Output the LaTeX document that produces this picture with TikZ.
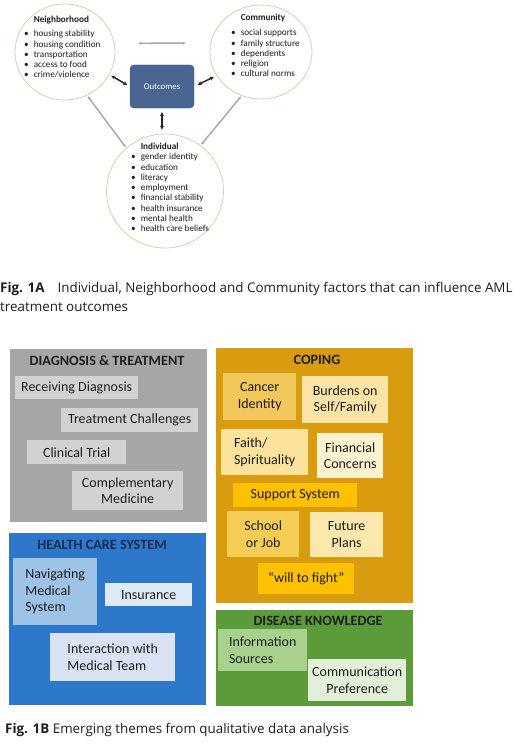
\documentclass[tikz,border=0pt]{standalone}
\usepackage{fontspec}
\setmainfont{Carlito}
\newfontfamily\capfont{Open Sans}
\usetikzlibrary{shapes.geometric,arrows.meta}
\definecolor{circline}{HTML}{C9D8B0}
\definecolor{outfill}{HTML}{4A6592}
\definecolor{outdraw}{HTML}{3A5078}
\definecolor{garrow}{HTML}{A6A6A6}
\definecolor{dgray}{HTML}{A6A6A6}
\definecolor{lgray}{HTML}{D2D2D2}
\definecolor{corange}{HTML}{D99B10}
\definecolor{cy1}{HTML}{F2C75C}
\definecolor{cy2}{HTML}{FBE4A6}
\definecolor{cy3}{HTML}{FCE29A}
\definecolor{cy4}{HTML}{FDF2D0}
\definecolor{cy5}{HTML}{FFC000}
\definecolor{cy6}{HTML}{F5CD55}
\definecolor{cy7}{HTML}{FCE7AC}
\definecolor{hblue}{HTML}{2E78CC}
\definecolor{hb1}{HTML}{9DC3E6}
\definecolor{hb2}{HTML}{DEEBF7}
\definecolor{hb3}{HTML}{DAE3F3}
\definecolor{hgreen}{HTML}{5B9B3A}
\definecolor{hg1}{HTML}{A9D18E}
\definecolor{hg2}{HTML}{E2F0D9}
\definecolor{navytxt}{HTML}{1A2B4C}
\definecolor{txt}{HTML}{1E1E1E}
\tikzset{
  circ/.style={ellipse, draw=circline, line width=0.8pt, fill=white},
  ctext/.style={font=\fontsize{9.2}{10.3}\selectfont, text=txt, inner sep=0pt, anchor=north west},
  blk/.style={{Stealth[length=4pt,width=4pt]}-{Stealth[length=4pt,width=4pt]}, line width=1.5pt, draw=black!85},
  gry/.style={{Stealth[length=3pt,width=3pt]}-{Stealth[length=3pt,width=3pt]}, line width=1.4pt, draw=garrow},
  outerbox/.style={rectangle, inner sep=0pt, anchor=north west},
  ttl/.style={font=\fontsize{14.2}{16}\bfseries\selectfont, text=txt, inner sep=0pt},
  inbox/.style={rectangle, inner sep=2pt, anchor=north west, font=\fontsize{14}{16.5}\selectfont, text=txt, align=center},
  lbox/.style={inbox, align=left},
  captxt/.style={font=\capfont\fontsize{13.4}{18}\selectfont, text=txt, inner sep=0pt, anchor=west},
}
\begin{document}
\begin{tikzpicture}[x=1pt,y=-1pt]
\useasboundingbox[fill=white] (0,0) rectangle (520,752);

% ---------- Fig 1A ----------
\node[circ, minimum width=100pt, minimum height=96pt] (nb) at (65,52) {};
\node[circ, minimum width=102pt, minimum height=94pt] (cm) at (261,52) {};
\node[circ, minimum width=117pt, minimum height=114pt] (ind) at (165,191) {};
\node[rectangle, rounded corners=4pt, fill=outfill, draw=outdraw, minimum width=64pt, minimum height=43pt, text=white, font=\fontsize{8.8}{10}\selectfont] (out) at (162,86.5) {Outcomes};

\node[ctext] (nbt) at (24,15) {\begin{tabular}{@{}l@{\hspace{5pt}}l@{}}
 & \textbf{Neighborhood}\\[4pt]
\textbullet & housing stability\\
\textbullet & housing condition\\
\textbullet & transportation\\
\textbullet & access to food\\
\textbullet & crime/violence
\end{tabular}};
\node[ctext] (cmt) at (231,13) {\begin{tabular}{@{}l@{\hspace{5pt}}l@{}}
 & \textbf{Community}\\[5pt]
\textbullet & social supports\\
\textbullet & family structure\\
\textbullet & dependents\\
\textbullet & religion\\
\textbullet & cultural norms
\end{tabular}};
\node[ctext] (indt) at (131,142) {\begin{tabular}{@{}l@{\hspace{5pt}}l@{}}
 & \textbf{Individual}\\
\textbullet & gender identity\\
\textbullet & education\\
\textbullet & literacy\\
\textbullet & employment\\
\textbullet & financial stability\\
\textbullet & health insurance\\
\textbullet & mental health\\
\textbullet & health care beliefs
\end{tabular}};

\draw[blk, shorten <=2pt, shorten >=3pt] (nb.-27) -- (out.west);
\draw[blk, shorten <=4pt, shorten >=3pt] (out.east) -- (cm.-152);
\draw[blk, shorten <=4pt, shorten >=4pt] (out.south) -- (out.south |- ind.north);
\draw[gry, shorten <=24pt, shorten >=25pt] (nb.10) -- (cm.170);
\draw[gry, shorten <=1pt, shorten >=1pt] (nb.-63) -- (ind.132);
\draw[gry, shorten <=1pt, shorten >=1pt] (cm.-114) -- (ind.52);

\node[captxt] (capA) at (0,289) {\textbf{Fig. 1A}\hspace{13pt}Individual, Neighborhood and Community factors that can influence AML};
\node[captxt] (capA2) at (0,307) {treatment outcomes};

% ---------- Fig 1B ----------
% Diagnosis & Treatment
\node[outerbox, fill=dgray, minimum width=197pt, minimum height=173pt] (dt) at (10,349) {};
\node[ttl] (dtt) at (107,361) {DIAGNOSIS \& TREATMENT};
\node[inbox, fill=lgray, minimum width=123pt, minimum height=23pt] (rd) at (15,376) {Receiving Diagnosis};
\node[inbox, fill=lgray, minimum width=137pt, minimum height=24pt] (tc) at (61,408) {Treatment Challenges};
\node[inbox, fill=lgray, minimum width=99pt, minimum height=24pt] (ct) at (27,440) {Clinical Trial};
\node[inbox, fill=lgray, minimum width=111pt, minimum height=39pt] (cmd) at (72,471) {Complementary\\Medicine};

% Coping
\node[outerbox, fill=corange, minimum width=197pt, minimum height=255pt] (cp) at (216,348) {};
\node[ttl] (cpt) at (317,360) {COPING};
\node[inbox, fill=cy1, minimum width=73pt, minimum height=47pt] (ci) at (223,373) {Cancer\\Identity};
\node[inbox, fill=cy2, minimum width=86pt, minimum height=47pt] (bs) at (302,376) {Burdens on\\Self/Family};
\node[lbox, fill=cy3, minimum width=87pt, minimum height=46pt] (fs) at (221,429) {Faith/\\Spirituality};
\node[inbox, fill=cy4, minimum width=66pt, minimum height=45pt] (fc) at (317,433) {Financial\\Concerns};
\node[inbox, fill=cy5, minimum width=124pt, minimum height=24pt] (ss) at (233,483) {Support System};
\node[inbox, fill=cy6, minimum width=72pt, minimum height=46pt] (sj) at (227,511) {School\\or Job};
\node[inbox, fill=cy7, minimum width=73pt, minimum height=45pt] (fp) at (310,512) {Future\\Plans};
\node[inbox, fill=cy5, minimum width=96pt, minimum height=31pt] (wf) at (258,563) {``will to fight''};

% Health care system
\node[outerbox, fill=hblue, minimum width=197pt, minimum height=172pt] (hc) at (9,533) {};
\node[ttl, text=navytxt] (hct) at (102,545) {HEALTH CARE SYSTEM};
\node[lbox, fill=hb1, minimum width=84pt, minimum height=67pt] (nm) at (13,558) {Navigating\\Medical\\System};
\node[inbox, fill=hb2, minimum width=87pt, minimum height=23pt] (ins) at (105,583) {Insurance};
\node[lbox, fill=hb3, minimum width=125pt, minimum height=48pt] (im) at (50,633) {Interaction with\\Medical Team};

% Disease knowledge
\node[outerbox, fill=hgreen, minimum width=197pt, minimum height=96pt] (dk) at (216,610) {};
\node[ttl] (dkt) at (318,621) {DISEASE KNOWLEDGE};
\node[lbox, fill=hg1, minimum width=89pt, minimum height=42pt] (is) at (218,629) {Information\\Sources};
\node[inbox, fill=hg2, minimum width=98pt, minimum height=42pt] (cpf) at (308,659) {Communication\\Preference};

\node[captxt] (capB) at (5,730) {\textbf{Fig. 1B} Emerging themes from qualitative data analysis};
\end{tikzpicture}
\end{document}
